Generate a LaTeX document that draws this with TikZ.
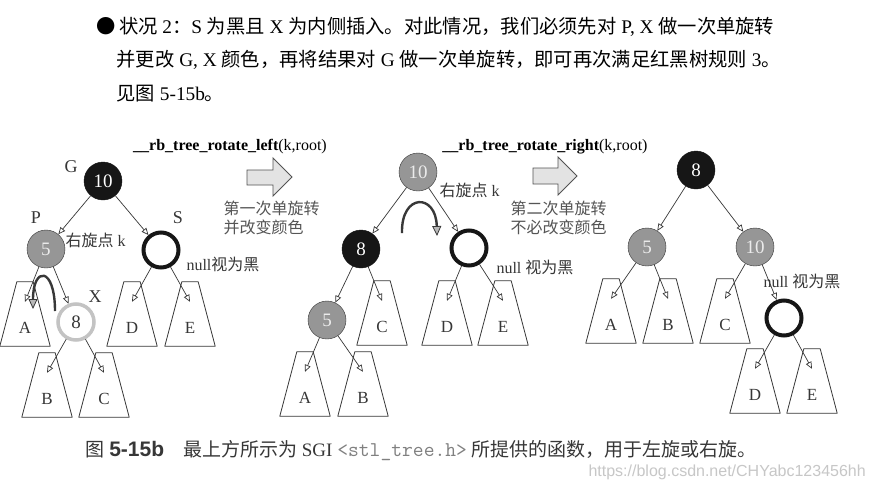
\documentclass[tikz,border=0pt]{standalone}
\usepackage{fontspec}
\setmainfont{Liberation Serif}
\setsansfont{Liberation Sans}
\newfontfamily\zhfont{Noto Sans CJK SC}
\newcommand{\zh}[1]{{\zhfont #1}}
\usetikzlibrary{arrows.meta}
\definecolor{nblk}{RGB}{22,22,22}
\definecolor{ngry}{RGB}{150,150,150}
\definecolor{nring}{RGB}{195,195,195}
\definecolor{edg}{RGB}{55,55,55}
\definecolor{txg}{RGB}{85,85,85}

\begin{document}
\begin{tikzpicture}[x=1pt,y=-1pt,>={Triangle[open,length=7pt,width=6pt]},
  blk/.style={circle,draw=nblk,fill=nblk,text=white,minimum size=38pt,inner sep=0pt,font=\fontsize{19}{19}\selectfont},
  gry/.style={circle,draw=edg,fill=ngry,text=white!92!black,minimum size=38pt,inner sep=0pt,font=\fontsize{19}{19}\selectfont},
  nul/.style={circle,draw=nblk,line width=4pt,fill=white,minimum size=35pt,inner sep=0pt},
  ring/.style={circle,draw=nring,line width=3.5pt,fill=white,text=edg,minimum size=36pt,inner sep=0pt,font=\fontsize{19}{19}\selectfont},
  subtree/.style={minimum width=50pt,minimum height=64pt,inner sep=0pt,
    label={[yshift=-14pt,text=edg,font=\fontsize{17}{17}\selectfont]center:#1},
    append after command={\pgfextra{\draw[edg,line width=0.8pt,line join=round]
      (\tikzlastnode.south west) -- (\tikzlastnode.south east) -- ([xshift=-17pt]\tikzlastnode.north east)
      -- ([xshift=17pt]\tikzlastnode.north west) -- cycle;}}},
  edge/.style={->,draw=edg,line width=0.7pt},
  rot/.style={line width=2.4pt,draw=black!78,-{Triangle[length=10pt,width=9pt,fill=gray!55,line width=0.8pt]}},
  bigarrow/.style={draw=gray!65!black,fill=gray!22,line width=0.9pt,line join=miter},
  tag/.style={font=\fontsize{18}{18}\selectfont,text=edg},
  note/.style={anchor=west,font=\fontsize{16}{16}\selectfont,text=txg},
  hd/.style={anchor=west,font=\fontsize{19.3}{19.3}\selectfont},
  fn/.style={font=\fontsize{16}{16}\selectfont}]
  \useasboundingbox[fill=white] (0,0) rectangle (871,483);

  % heading
  \node[hd] (l1) at (93,27) {\zh{●\,状况} 2\zh{：}S \zh{为黑且} X \zh{为内侧插入。对此情况，我们必须先对} P, X \zh{做一次单旋转}};
  \node[hd] (l2) at (113,60) {\zh{并更改} G, X \zh{颜色，再将结果对} G \zh{做一次单旋转，即可再次满足红黑树规则} 3\zh{。}};
  \node[hd] (l3) at (113,94) {\zh{见图} 5-15b\zh{。}};

  % first tree
  \node[blk] (g1) at (103,181) {10};
  \node[gry] (p1) at (46,249) {5};
  \node[nul] (s1) at (161,250) {};
  \node[ring] (x1) at (76,322) {8};
  \node[subtree=A] (a1) at (25,314) {};
  \node[subtree=D] (d1) at (132,314) {};
  \node[subtree=E] (e1) at (190,314) {};
  \node[subtree=B] (b1) at (47,385) {};
  \node[subtree=C] (c1) at (104,385) {};
  \node[tag] at (71,167) {G};
  \node[tag] at (36,218) {P};
  \node[tag] at (178,218) {S};
  \node[tag] at (95,297) {X};
  \node[note,text=edg] at (62,240) {\zh{右旋点} k};
  \node[note,text=edg] at (183,264) {null\zh{视为黑}};
  \draw[edge] (g1)--(p1); \draw[edge] (g1)--(s1); \draw[edge] (p1)--([yshift=-20pt]a1.north); \draw[edge] (p1)--(x1);
  \draw[edge] (x1)--([yshift=-20pt]b1.north); \draw[edge] (x1)--([yshift=-20pt]c1.north);
  \draw[edge] (s1)--([yshift=-20pt]d1.north); \draw[edge] (s1)--([yshift=-20pt]e1.north);
  \draw[rot] (55,311) .. controls (55,266) and (33,266) .. (33,309);

  % first rotation
  \node[fn] (f1) at (230,147) {\textbf{\_\_rb\_tree\_rotate\_left}(k,root)};
  \draw[bigarrow] (247,170) -- (273,170) -- (273,158) -- (292,177) -- (273,196) -- (273,185) -- (247,185) -- cycle;
  \node[note] at (220,208) {\zh{第一次单旋转}};
  \node[note] at (220,227) {\zh{并改变颜色}};

  % second tree
  \node[gry] (r2) at (418,172) {10};
  \node[blk] (k2) at (361,249) {8};
  \node[nul] (s2) at (469,248) {};
  \node[gry] (p2) at (327,320) {5};
  \node[subtree=C] (c2) at (382,313) {};
  \node[subtree=D] (d2) at (447,313) {};
  \node[subtree=E] (e2) at (503,313) {};
  \node[subtree=A] (a2) at (305,384) {};
  \node[subtree=B] (b2) at (363,384) {};
  \node[note,text=edg] at (436,190) {\zh{右旋点} k};
  \node[note,text=edg] at (493,267) {null \zh{视为黑}};
  \draw[edge] (r2)--(k2); \draw[edge] (r2)--(s2); \draw[edge] (k2)--(p2); \draw[edge] (k2)--([yshift=-20pt]c2.north);
  \draw[edge] (s2)--([yshift=-20pt]d2.north); \draw[edge] (s2)--([yshift=-20pt]e2.north);
  \draw[edge] (p2)--([yshift=-20pt]a2.north); \draw[edge] (p2)--([yshift=-20pt]b2.north);
  \draw[rot] (402,233) .. controls (401,193) and (436,193) .. (437,236);

  % second rotation
  \node[fn] (f2) at (545,147) {\textbf{\_\_rb\_tree\_rotate\_right}(k,root)};
  \draw[bigarrow] (533,168) -- (558,168) -- (558,157) -- (577,176) -- (558,195) -- (558,184) -- (533,184) -- cycle;
  \node[note] at (507,208) {\zh{第二次单旋转}};
  \node[note] at (507,227) {\zh{不必改变颜色}};

  % third tree
  \node[blk] (r3) at (696,170) {8};
  \node[gry] (l3n) at (647,247) {5};
  \node[gry] (m3) at (755,247) {10};
  \node[nul] (s3) at (784,318) {};
  \node[subtree=A] (a3) at (611,311) {};
  \node[subtree=B] (b3) at (668,311) {};
  \node[subtree=C] (c3) at (725,311) {};
  \node[subtree=D] (d3) at (755,381) {};
  \node[subtree=E] (e3) at (812,381) {};
  \node[note,text=edg] at (760,281) {null \zh{视为黑}};
  \draw[edge] (r3)--(l3n); \draw[edge] (r3)--(m3); \draw[edge] (l3n)--([yshift=-20pt]a3.north); \draw[edge] (l3n)--([yshift=-20pt]b3.north);
  \draw[edge] (m3)--([yshift=-20pt]c3.north); \draw[edge] (m3)--(s3);
  \draw[edge] (s3)--([yshift=-20pt]d3.north); \draw[edge] (s3)--([yshift=-20pt]e3.north);

  % caption
  \node[anchor=west,font=\fontsize{19}{19}\selectfont,text=edg] (cap) at (82,451)
    {\zh{图} {\sffamily\bfseries\fontsize{21}{21}\selectfont 5-15b}\hspace{1em}\zh{最上方所示为} SGI
     {\ttfamily\fontsize{21}{21}\selectfont\color{gray}<stl\_tree.h>} \zh{所提供的函数，用于左旋或右旋。}};
  \node[anchor=west,font=\sffamily\fontsize{16}{16}\selectfont,text=black!22] (wm) at (585,472) {https://blog.csdn.net/CHYabc123456hh};
\end{tikzpicture}
\end{document}
